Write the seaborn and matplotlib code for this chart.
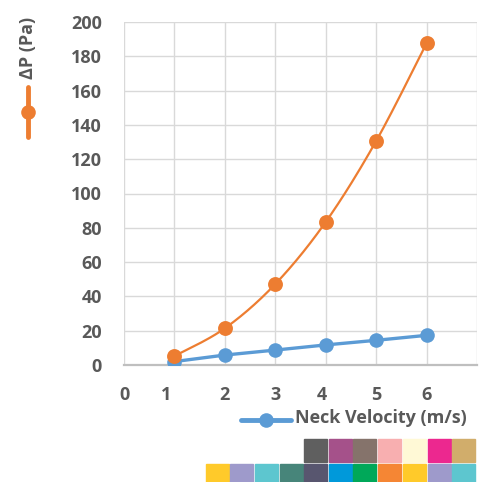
import numpy as np
import pandas as pd
import seaborn as sns
import matplotlib
matplotlib.use("Agg")
import matplotlib.pyplot as plt
from matplotlib.lines import Line2D
from matplotlib.patches import Rectangle
import matplotlib.transforms as mtransforms

# data
neck_velocity = [1, 2, 3, 4, 5, 6]
velocity_series = [2.0, 5.8, 8.7, 11.7, 14.4, 17.3]
pressure_drop = [5.2, 21.4, 47.2, 83.4, 130.6, 187.6]
x_tick_labels = ['0', '1', '2', '3', '4', '5', '6', '']
y_ticks = list(range(0, 201, 20))

orange = "#ED7D31"
blue = "#5B9BD5"
text_color = "#595959"

swatch_row1 = ["#5F5F5F", "#A5518A", "#85736B", "#F8AFB0", "#FFF9D6", "#EC288F", "#D1AD6B"]
swatch_row2 = ["#FFCA2A", "#9E9ACB", "#5DC6CF", "#47857A", "#58566F", "#0099DA",
               "#00A859", "#F58634", "#FFCA2A", "#9E9ACB", "#5DC6CF"]


def smooth_path(x, y, n=30):
    # Excel style smoothed line (Catmull-Rom bezier) used only for drawing
    x = np.asarray(x, float)
    y = np.asarray(y, float)
    px = np.concatenate([[x[0]], x, [x[-1]]])
    py = np.concatenate([[y[0]], y, [y[-1]]])
    xs, ys = [], []
    t = np.linspace(0, 1, n)
    for i in range(1, len(px) - 2):
        p0 = np.array([px[i], py[i]])
        p3 = np.array([px[i + 1], py[i + 1]])
        p1 = p0 + (np.array([px[i + 1], py[i + 1]]) - np.array([px[i - 1], py[i - 1]])) / 6
        p2 = p3 - (np.array([px[i + 2], py[i + 2]]) - np.array([px[i], py[i]])) / 6
        b = ((1 - t) ** 3)[:, None] * p0 + (3 * (1 - t) ** 2 * t)[:, None] * p1 \
            + (3 * (1 - t) * t ** 2)[:, None] * p2 + (t ** 3)[:, None] * p3
        xs.extend(b[:, 0])
        ys.extend(b[:, 1])
    return xs, ys


sns.set_theme(style="white")
plt.rcParams['font.family'] = ['Open Sans', 'DejaVu Sans']
plt.rcParams['font.weight'] = 'bold'

fig = plt.figure(figsize=(4.86, 4.82), dpi=100, facecolor='white')
ax = fig.add_axes([124 / 486, 117 / 482, 353 / 486, 343 / 482])

df = pd.DataFrame({'v': neck_velocity, 'blue': velocity_series, 'dp': pressure_drop})

sns.lineplot(x='v', y='blue', data=df, ax=ax, color=blue, linewidth=2.4,
             marker='o', markersize=10.5, markeredgewidth=0, zorder=3)
sx, sy = smooth_path(df['v'], df['dp'])
sns.lineplot(x=sx, y=sy, ax=ax, color=orange, linewidth=1.6, sort=False,
             estimator=None, zorder=4)
sns.scatterplot(x='v', y='dp', data=df, ax=ax, color=orange, s=115,
                linewidth=0, zorder=5)

ax.set_xlim(0, 7)
ax.set_ylim(0, 200)
ax.set_xticks(range(0, 8))
ax.set_xticklabels(x_tick_labels)
ax.set_yticks(y_ticks)
ax.grid(True, color="#D9D9D9", linewidth=1.0)
ax.set_axisbelow(True)
for s in ["left", "right", "top"]:
    ax.spines[s].set_visible(False)
ax.spines["bottom"].set_color("#BFBFBF")
ax.spines["bottom"].set_linewidth(1.6)
ax.tick_params(axis='both', length=0, labelsize=13, labelcolor=text_color)
ax.tick_params(axis='x', pad=15)
ax.tick_params(axis='y', pad=16)
for lab in ax.get_xticklabels() + ax.get_yticklabels():
    lab.set_fontweight('bold')
ax.set_xlabel('')
ax.set_ylabel('')

# small label shifts as in the reference
shifts = {1: -8, 4: -4}
for i, lab in enumerate(ax.get_xticklabels()):
    if i in shifts:
        off = mtransforms.ScaledTranslation(shifts[i] / 100, 0, fig.dpi_scale_trans)
        lab.set_transform(lab.get_transform() + off)


def fx(px):
    return px / 486


def fy(py):
    return 1 - py / 482


# left legend (vertical)
fig.text(fx(28.5), fy(48), 'ΔP (Pa)', rotation=90, ha='center', va='center',
         fontsize=13, color=text_color, fontweight='bold')
fig.add_artist(Line2D([fx(27.5), fx(27.5)], [fy(87), fy(137)], color=orange,
                      linewidth=3.5, transform=fig.transFigure))
fig.add_artist(Line2D([fx(27.5)], [fy(112)], color=orange, marker='o', markersize=10.5,
                      markeredgewidth=0, transform=fig.transFigure))

# bottom legend
fig.add_artist(Line2D([fx(241), fx(291)], [fy(420), fy(420)], color=blue,
                      linewidth=3.5, transform=fig.transFigure))
fig.add_artist(Line2D([fx(266)], [fy(420)], color=blue, marker='o', markersize=10.5,
                      markeredgewidth=0, transform=fig.transFigure))
fig.text(fx(295), fy(418), 'Neck Velocity (m/s)', ha='left', va='center',
         fontsize=13, color=text_color, fontweight='bold')

# colour swatches
row1_x = [304, 329, 353, 378, 403, 428, 452]
row2_x = [206, 230, 255, 280, 304, 329, 353, 378, 403, 428, 452]
for x0, c in zip(row1_x, swatch_row1):
    fig.patches.append(Rectangle((fx(x0), fy(462)), 23 / 486, 23 / 482, color=c,
                                 transform=fig.transFigure, figure=fig))
for x0, c in zip(row2_x, swatch_row2):
    fig.patches.append(Rectangle((fx(x0), fy(482)), 23 / 486, 18 / 482, color=c,
                                 transform=fig.transFigure, figure=fig))

plt.savefig('out.png', dpi=100, facecolor='white')
